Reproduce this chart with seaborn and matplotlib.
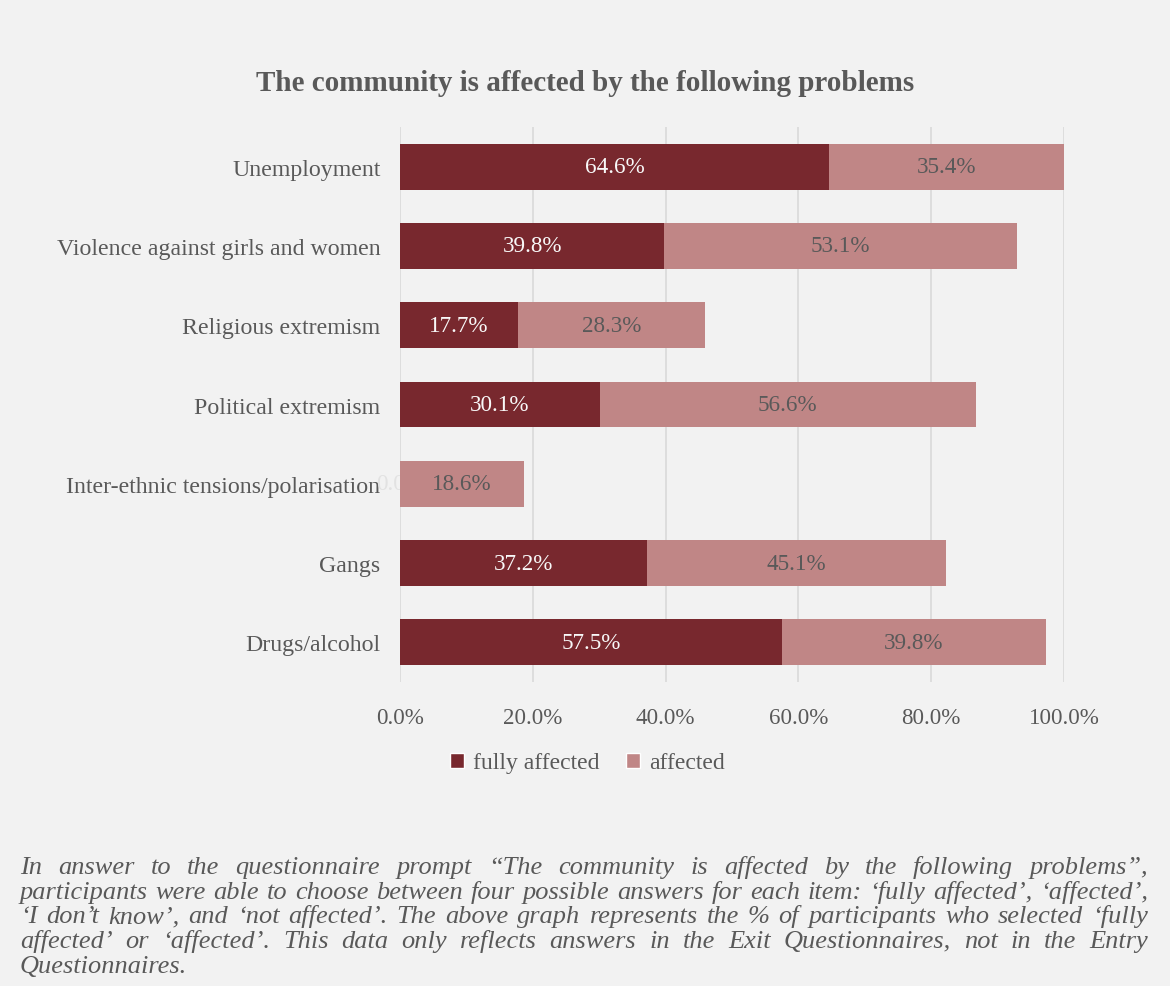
import numpy as np
import pandas as pd
import seaborn as sns
import matplotlib.pyplot as plt
from matplotlib.patches import Patch

# dados
categorias = ["Unemployment", "Violence against girls and women", "Religious extremism",
              "Political extremism", "Inter-ethnic tensions/polarisation", "Gangs", "Drugs/alcohol"]
fully_affected = [64.6, 39.8, 17.7, 30.1, 0.0, 37.2, 57.5]
affected = [35.4, 53.1, 28.3, 56.6, 18.6, 45.1, 39.8]
series = ["fully affected", "affected"]
xticks = [0, 20, 40, 60, 80, 100]

titulo = "The community is affected by the following problems"
nota = [
    "In answer to the questionnaire prompt “The community is affected by the following problems”,",
    "participants were able to choose between four possible answers for each item: ‘fully affected’, ‘affected’,",
    "‘I don’t know’, and ‘not affected’. The above graph represents the % of participants who selected ‘fully",
    "affected’ or ‘affected’. This data only reflects answers in the Exit Questionnaires, not in the Entry",
    "Questionnaires.",
]

BG = "#F2F2F2"
ESCURO = "#78282E"
CLARO = "#C08686"
CINZA = "#595959"

sns.set_theme(style="white")
plt.rcParams["font.family"] = ["Liberation Serif", "DejaVu Serif"]

df = pd.DataFrame({"categoria": categorias, "fully": fully_affected, "affected": affected})
df["total"] = df["fully"] + df["affected"]

fig = plt.figure(figsize=(11.7, 9.87), dpi=100, facecolor=BG)
ax = fig.add_axes([400 / 1170, 1 - 683 / 987, 664 / 1170, 555 / 987])
ax.set_facecolor(BG)

# total primeiro (parte clara), depois a parte escura por cima
sns.barplot(data=df, y="categoria", x="total", color=CLARO, orient="h",
            width=0.58, saturation=1, linewidth=0, ax=ax, zorder=3)
sns.barplot(data=df, y="categoria", x="fully", color=ESCURO, orient="h",
            width=0.58, saturation=1, linewidth=0, ax=ax, zorder=4)

for i, row in df.iterrows():
    ax.text(row["fully"] / 2, i, f"{row['fully']:.1f}%", ha="center", va="center",
            color="#F8F8F8" if row["fully"] > 0 else "#E2E2E2", fontsize=16.7,
            zorder=2 if row["fully"] == 0 else 5, clip_on=False)
    ax.text(row["fully"] + row["affected"] / 2, i, f"{row['affected']:.1f}%", ha="center",
            va="center", color=CINZA, fontsize=16.7, zorder=5)

ax.set_xlim(0, 100)
ax.set_ylim(6.5, -0.5)
ax.set_xticks(xticks)
ax.set_xticklabels([f"{t:.1f}%" for t in xticks])
ax.xaxis.grid(True, color="#D9D9D9", linewidth=1.2, zorder=0)
ax.set_axisbelow(True)
for s in ax.spines.values():
    s.set_visible(False)
ax.tick_params(axis="x", length=0, labelsize=16.6, labelcolor=CINZA, pad=18)
ax.tick_params(axis="y", length=0, labelsize=17.2, labelcolor=CINZA, pad=14)
ax.set_xlabel("")
ax.set_ylabel("")

fig.text(0.5, 1 - 91 / 987, titulo, ha="center", va="baseline", fontsize=21,
         fontweight="bold", color=CINZA)

handles = [Patch(facecolor=ESCURO), Patch(facecolor=CLARO)]
fig.legend(handles, series, loc="center", bbox_to_anchor=(0.502, 1 - 764 / 987), ncol=2,
           frameon=False, fontsize=17, labelcolor=CINZA, handlelength=0.6, handleheight=0.6,
           handletextpad=0.4, columnspacing=1.1)

# nota em itálico, justificada
renderer = fig.canvas.get_renderer()
esq, dir_ = 20, 1148
t = fig.text(0, 0, nota[1], fontsize=16, style="italic")
tam = 16 * (dir_ - esq) / t.get_window_extent(renderer).width * 0.985
t.remove()
for n, linha in enumerate(nota):
    y = 1 - (874 + n * 24.7) / 987
    palavras = linha.split(" ")
    if n == len(nota) - 1:
        fig.text(esq / 1170, y, linha, fontsize=tam, style="italic", color=CINZA, va="baseline")
        continue
    objs = [fig.text(0, y, p, fontsize=tam, style="italic", color=CINZA, va="baseline") for p in palavras]
    larguras = [o.get_window_extent(renderer).width for o in objs]
    gap = (dir_ - esq - sum(larguras)) / (len(palavras) - 1)
    x = esq
    for o, w in zip(objs, larguras):
        o.set_x(x / 1170)
        x += w + gap

fig.savefig("out.png", dpi=100, facecolor=BG)
